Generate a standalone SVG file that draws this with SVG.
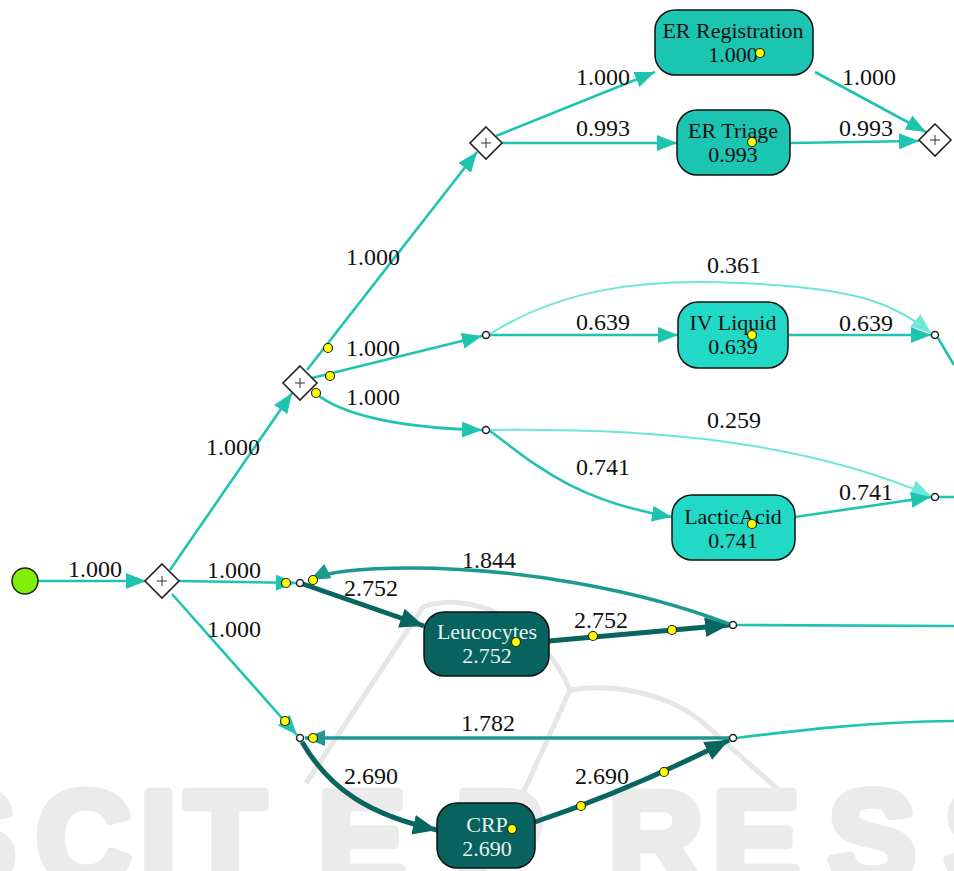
<svg xmlns="http://www.w3.org/2000/svg" width="954" height="871" viewBox="0 0 954 871">
<style>
.lbl{font-size:24px;fill:#111;text-anchor:middle}
.nt{font-size:22px;fill:#111;text-anchor:middle}
.ntw{font-size:22px;fill:#e6f2f0;text-anchor:middle}
.e{fill:none;stroke:#1fc4b1;stroke-width:2.6}
.el{fill:none;stroke:#6fe6da;stroke-width:2}
.ed{fill:none;stroke:#09655f;stroke-width:5}
.em{fill:none;stroke:#1e9990;stroke-width:3.5}
.box{stroke:#111;stroke-width:1.5}
.gw{fill:#fff;stroke:#222;stroke-width:1.6}
.plus{stroke:#333;stroke-width:1}
.sc{fill:#fff;stroke:#222;stroke-width:1.5}
.yd{fill:#ffff00;stroke:#222;stroke-width:1.2}
.wm{fill:none;stroke:#e6e6e6;stroke-width:5}
</style>
<defs>
<marker id="aT" markerUnits="userSpaceOnUse" markerWidth="22" markerHeight="16" refX="20" refY="8" orient="auto"><path d="M0,0 L20,8 L0,16 z" fill="#1fc4b1"/></marker>
<marker id="aL" markerUnits="userSpaceOnUse" markerWidth="22" markerHeight="16" refX="20" refY="8" orient="auto"><path d="M0,0 L20,8 L0,16 z" fill="#6fe6da"/></marker>
<marker id="aD" markerUnits="userSpaceOnUse" markerWidth="26" markerHeight="20" refX="24" refY="10" orient="auto"><path d="M0,0 L24,10 L0,20 z" fill="#09655f"/></marker>
<marker id="aM" markerUnits="userSpaceOnUse" markerWidth="22" markerHeight="16" refX="20" refY="8" orient="auto"><path d="M0,0 L20,8 L0,16 z" fill="#1e9990"/></marker>
</defs>
<rect width="954" height="871" fill="#fff"/>
<g id="watermark">
<path class="wm" d="M306,783 L423,607 C470,590 540,620 570,690 L520,800"/>
<path class="wm" d="M570,690 C610,684 660,690 700,720 L790,800"/>
<text font-family="Liberation Sans, Arial, sans-serif" font-weight="700" font-size="132" fill="#ebebeb" stroke="#ebebeb" stroke-width="9" stroke-linejoin="round" x="-72 36 140 185 318 455 608 712 828 944" y="883">SCITEPRESS</text>
</g>
<g id="connectors">
<path class="e" d="M38,581 L146,581" marker-end="url(#aT)"/>
<path class="e" d="M170,570 L292,393" marker-end="url(#aT)"/>
<path class="e" d="M179,581 L296,583" marker-end="url(#aT)"/>
<path class="e" d="M172,594 L297,735" marker-end="url(#aT)"/>
<path class="e" d="M307,370 L477,152" marker-end="url(#aT)"/>
<path class="e" d="M312,378 L482,336" marker-end="url(#aT)"/>
<path class="e" d="M314,392 C340,415 400,428 482,430" marker-end="url(#aT)"/>
<path class="e" d="M496,136 L655,72" marker-end="url(#aT)"/>
<path class="e" d="M502,143 L677,143" marker-end="url(#aT)"/>
<path class="e" d="M815,72 L926,132" marker-end="url(#aT)"/>
<path class="e" d="M790,143 L919,141" marker-end="url(#aT)"/>
<path class="e" d="M490,335 L678,335" marker-end="url(#aT)"/>
<path class="el" d="M490,334 C560,290 640,278 740,283 C850,288 890,300 931,333" marker-end="url(#aL)"/>
<path class="e" d="M788,335 L931,335" marker-end="url(#aT)"/>
<path class="e" d="M938,338 L954,365"/>
<path class="e" d="M490,431 C530,460 570,500 672,517" marker-end="url(#aT)"/>
<path class="el" d="M490,430 C650,428 800,440 931,496" marker-end="url(#aL)"/>
<path class="e" d="M795,517 L931,497" marker-end="url(#aT)"/>
<path class="e" d="M939,497 L954,497"/>
<path class="ed" d="M303,584 L424,626" marker-end="url(#aD)"/>
<path class="ed" d="M549,641 L729,625" marker-end="url(#aD)"/>
<path class="em" d="M729,624 C640,590 520,568 410,568 C350,568 322,574 310,580" marker-end="url(#aM)"/>
<path class="e" d="M737,625 L954,626"/>
<path class="ed" d="M302,742 C330,790 370,815 437,830" marker-end="url(#aD)"/>
<path class="ed" d="M535,822 C600,800 660,775 729,740" marker-end="url(#aD)"/>
<path class="em" d="M729,738 L305,738" marker-end="url(#aM)"/>
<path class="e" d="M737,738 C800,730 870,722 954,721"/>
</g>
<g id="edge-labels" font-family="'Liberation Serif', Tinos, 'Times New Roman', serif">
<text class="lbl" x="95" y="577">1.000</text>
<text class="lbl" x="233" y="455">1.000</text>
<text class="lbl" x="234" y="578">1.000</text>
<text class="lbl" x="234" y="637">1.000</text>
<text class="lbl" x="373" y="265">1.000</text>
<text class="lbl" x="373" y="356">1.000</text>
<text class="lbl" x="373" y="405">1.000</text>
<text class="lbl" x="603" y="85">1.000</text>
<text class="lbl" x="603" y="136">0.993</text>
<text class="lbl" x="869" y="85">1.000</text>
<text class="lbl" x="866" y="136">0.993</text>
<text class="lbl" x="603" y="330">0.639</text>
<text class="lbl" x="734" y="273">0.361</text>
<text class="lbl" x="866" y="331">0.639</text>
<text class="lbl" x="603" y="475">0.741</text>
<text class="lbl" x="734" y="428">0.259</text>
<text class="lbl" x="866" y="500">0.741</text>
<text class="lbl" x="371" y="596">2.752</text>
<text class="lbl" x="601" y="628">2.752</text>
<text class="lbl" x="489" y="568">1.844</text>
<text class="lbl" x="371" y="784">2.690</text>
<text class="lbl" x="602" y="784">2.690</text>
<text class="lbl" x="488" y="731">1.782</text>
</g>
<g id="start"><circle cx="25" cy="581" r="13" fill="#7fef0a" stroke="#222" stroke-width="1.5"/></g>
<g id="gw1"><path class="gw" d="M162,564 L179,581 L162,598 L145,581 z"/><path class="plus" d="M157,581 H167 M162,576 V586"/></g>
<g id="gw2"><path class="gw" d="M300,366 L317,383 L300,400 L283,383 z"/><path class="plus" d="M295,383 H305 M300,378 V388"/></g>
<g id="gw3"><path class="gw" d="M486,127 L502,143 L486,159 L470,143 z"/><path class="plus" d="M481,143 H491 M486,138 V148"/></g>
<g id="gw4"><path class="gw" d="M935,124 L951,140 L935,156 L919,140 z"/><path class="plus" d="M930,140 H940 M935,135 V145"/></g>
<g id="nodes" font-family="'Liberation Serif', Tinos, 'Times New Roman', serif">
<g id="er-registration"><rect class="box" x="655" y="10" width="158" height="65" rx="20" fill="#1cc4b2"/><text class="nt" x="733" y="38">ER Registration</text><text class="nt" x="733" y="62">1.000</text></g>
<g id="er-triage"><rect class="box" x="677" y="110" width="113" height="65" rx="20" fill="#1cc4b2"/><text class="nt" x="733" y="138">ER Triage</text><text class="nt" x="733" y="162">0.993</text></g>
<g id="iv-liquid"><rect class="box" x="678" y="302" width="110" height="66" rx="20" fill="#22d9c6"/><text class="nt" x="733" y="330">IV Liquid</text><text class="nt" x="733" y="354">0.639</text></g>
<g id="lacticacid"><rect class="box" x="672" y="495" width="123" height="65" rx="20" fill="#22d9c6"/><text class="nt" x="733" y="524">LacticAcid</text><text class="nt" x="733" y="548">0.741</text></g>
<g id="leucocytes"><rect class="box" x="424" y="612" width="125" height="64" rx="20" fill="#08625e"/><text class="ntw" x="487" y="639">Leucocytes</text><text class="ntw" x="487" y="663">2.752</text></g>
<g id="crp"><rect class="box" x="437" y="803" width="98" height="65" rx="20" fill="#08625e"/><text class="ntw" x="487" y="832">CRP</text><text class="ntw" x="487" y="856">2.690</text></g>
</g>
<g id="joins">
<circle class="sc" cx="486" cy="335" r="3.5"/>
<circle class="sc" cx="486" cy="430" r="3.5"/>
<circle class="sc" cx="935" cy="335" r="3.5"/>
<circle class="sc" cx="935" cy="497" r="3.5"/>
<circle class="sc" cx="300" cy="583" r="3.5"/>
<circle class="sc" cx="733" cy="625" r="3.5"/>
<circle class="sc" cx="300" cy="738" r="3.5"/>
<circle class="sc" cx="733" cy="738" r="3.5"/>
</g>
<g id="tokens">
<circle class="yd" cx="328" cy="348" r="4.5"/>
<circle class="yd" cx="330" cy="376" r="4.5"/>
<circle class="yd" cx="316" cy="393" r="4.5"/>
<circle class="yd" cx="760" cy="53" r="4.5"/>
<circle class="yd" cx="752" cy="142" r="4.5"/>
<circle class="yd" cx="752" cy="335" r="4.5"/>
<circle class="yd" cx="752" cy="524" r="4.5"/>
<circle class="yd" cx="286" cy="583" r="4.5"/>
<circle class="yd" cx="313" cy="580" r="4.5"/>
<circle class="yd" cx="516" cy="642" r="4.5"/>
<circle class="yd" cx="593" cy="636" r="4.5"/>
<circle class="yd" cx="672" cy="630" r="4.5"/>
<circle class="yd" cx="285" cy="721" r="4.5"/>
<circle class="yd" cx="313" cy="738" r="4.5"/>
<circle class="yd" cx="512" cy="829" r="4.5"/>
<circle class="yd" cx="581" cy="806" r="4.5"/>
<circle class="yd" cx="664" cy="772" r="4.5"/>
</g>
</svg>
